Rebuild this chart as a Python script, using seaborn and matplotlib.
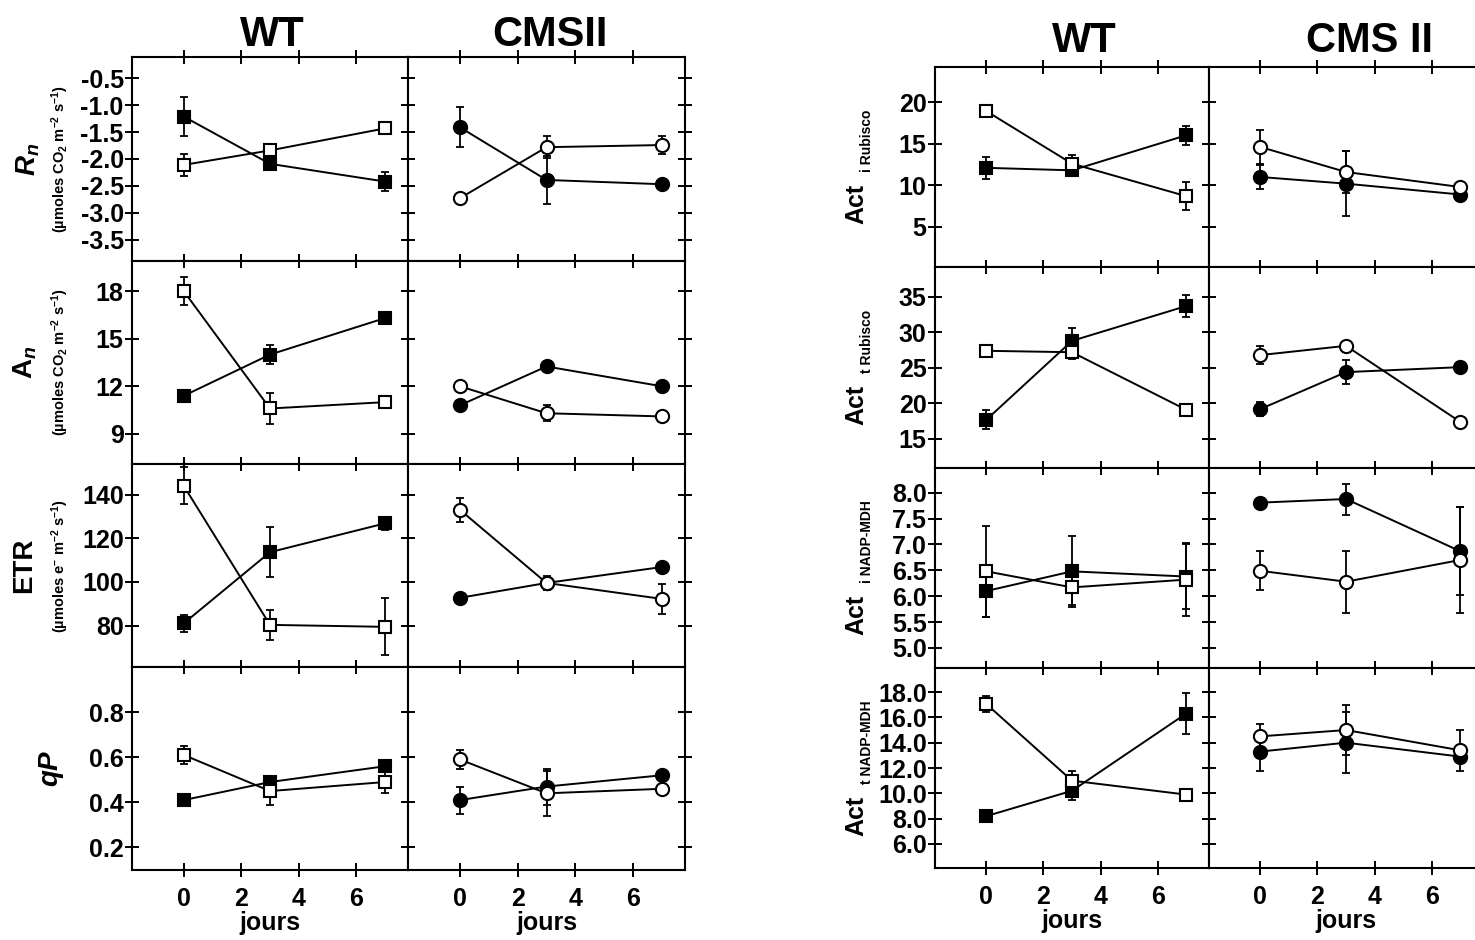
import matplotlib
matplotlib.use("Agg")
import matplotlib.pyplot as plt
import seaborn as sns

# days of measurement
days = [0, 3, 7]
x_ticks = [0, 2, 4, 6]

# ---- left block: gas exchange / fluorescence ----
rn_wt_filled = [-1.21, -2.09, -2.42]
rn_wt_filled_err = [0.37, 0.06, 0.18]
rn_wt_open = [-2.11, -1.84, -1.43]
rn_wt_open_err = [0.21, 0.06, 0.04]
rn_cms_filled = [-1.41, -2.39, -2.47]
rn_cms_filled_err = [0.37, 0.45, 0.04]
rn_cms_open = [-2.73, -1.78, -1.74]
rn_cms_open_err = [0.08, 0.20, 0.17]
rn_ticks = [-3.5, -3.0, -2.5, -2.0, -1.5, -1.0, -0.5]

an_wt_filled = [11.4, 14.0, 16.3]
an_wt_filled_err = [0.25, 0.6, 0.35]
an_wt_open = [18.0, 10.6, 11.0]
an_wt_open_err = [0.9, 1.0, 0.2]
an_cms_filled = [10.8, 13.25, 12.0]
an_cms_filled_err = [0.2, 0.2, 0.2]
an_cms_open = [12.0, 10.3, 10.1]
an_cms_open_err = [0.15, 0.5, 0.15]
an_ticks = [9, 12, 15, 18]

etr_wt_filled = [81.0, 113.6, 126.8]
etr_wt_filled_err = [4.0, 11.5, 3.0]
etr_wt_open = [144.0, 80.3, 79.4]
etr_wt_open_err = [8.5, 7.0, 13.0]
etr_cms_filled = [92.7, 99.5, 106.8]
etr_cms_filled_err = [1.5, 1.5, 1.5]
etr_cms_open = [133.0, 99.5, 92.2]
etr_cms_open_err = [5.5, 3.0, 7.0]
etr_ticks = [80, 100, 120, 140]

qp_wt_filled = [0.41, 0.49, 0.56]
qp_wt_filled_err = [0.01, 0.02, 0.02]
qp_wt_open = [0.61, 0.45, 0.49]
qp_wt_open_err = [0.04, 0.06, 0.05]
qp_cms_filled = [0.41, 0.47, 0.52]
qp_cms_filled_err = [0.06, 0.08, 0.02]
qp_cms_open = [0.59, 0.44, 0.46]
qp_cms_open_err = [0.04, 0.10, 0.02]
qp_ticks = [0.2, 0.4, 0.6, 0.8]

# ---- right block: enzyme activities ----
air_wt_filled = [12.1, 11.8, 16.0]
air_wt_filled_err = [1.3, 0.6, 1.1]
air_wt_open = [18.9, 12.6, 8.7]
air_wt_open_err = [0.7, 1.0, 1.7]
air_cms_filled = [11.0, 10.2, 8.9]
air_cms_filled_err = [1.4, 3.9, 0.3]
air_cms_open = [14.6, 11.6, 9.8]
air_cms_open_err = [2.0, 2.5, 0.3]
air_ticks = [5, 10, 15, 20]

atr_wt_filled = [17.7, 28.8, 33.7]
atr_wt_filled_err = [1.3, 1.8, 1.6]
atr_wt_open = [27.4, 27.2, 19.1]
atr_wt_open_err = [0.8, 1.0, 0.4]
atr_cms_filled = [19.2, 24.4, 25.1]
atr_cms_filled_err = [1.0, 1.7, 0.5]
atr_cms_open = [26.8, 28.1, 17.4]
atr_cms_open_err = [1.3, 0.3, 0.3]
atr_ticks = [15, 20, 25, 30, 35]

ain_wt_filled = [6.10, 6.48, 6.38]
ain_wt_filled_err = [0.50, 0.68, 0.62]
ain_wt_open = [6.48, 6.17, 6.32]
ain_wt_open_err = [0.88, 0.35, 0.70]
ain_cms_filled = [7.81, 7.88, 6.87]
ain_cms_filled_err = [0.0, 0.30, 0.85]
ain_cms_open = [6.49, 6.28, 6.70]
ain_cms_open_err = [0.38, 0.60, 1.03]
ain_ticks = [5.0, 5.5, 6.0, 6.5, 7.0, 7.5, 8.0]

atn_wt_filled = [8.2, 10.2, 16.3]
atn_wt_filled_err = [0.3, 0.7, 1.6]
atn_wt_open = [17.05, 11.0, 9.9]
atn_wt_open_err = [0.6, 0.8, 0.3]
atn_cms_filled = [13.3, 14.0, 12.9]
atn_cms_filled_err = [1.5, 2.4, 0.5]
atn_cms_open = [14.5, 15.0, 13.4]
atn_cms_open_err = [1.0, 2.0, 1.6]
atn_ticks = [6.0, 8.0, 10.0, 12.0, 14.0, 16.0, 18.0]

sns.set_style("ticks", rc={"axes.edgecolor": "black", "xtick.color": "black",
                           "ytick.color": "black", "text.color": "black",
                           "axes.labelcolor": "black"})
plt.rcParams["font.family"] = ["Liberation Sans", "DejaVu Sans"]
plt.rcParams["font.weight"] = "bold"
plt.rcParams["axes.unicode_minus"] = False
plt.rcParams["mathtext.fontset"] = "custom"
plt.rcParams["mathtext.rm"] = "Liberation Sans:bold"
plt.rcParams["mathtext.bf"] = "Liberation Sans:bold"
plt.rcParams["mathtext.it"] = "Liberation Sans:italic:bold"
plt.rcParams["mathtext.default"] = "rm"

W, H = 1475, 940
fig = plt.figure(figsize=(W / 100, H / 100), dpi=100)


def box(x0, x1, y0, y1):
    return [x0 / W, 1 - y1 / H, (x1 - x0) / W, (y1 - y0) / H]


def draw_series(ax, vals, err, marker, filled, ms):
    ax.errorbar(days, vals, yerr=err, fmt="none", ecolor="black",
                elinewidth=1.3, capsize=3, capthick=1.3, zorder=2)
    sns.lineplot(x=days, y=vals, ax=ax, color="black", linewidth=1.4,
                 errorbar=None, marker=marker, markersize=ms,
                 markerfacecolor="black" if filled else "white",
                 markeredgecolor="black", markeredgewidth=1.5, zorder=3)


left_rows = [
    dict(ylim=(-3.9, -0.1), ticks=rn_ticks, fmt="%.1f",
         wt=[(rn_wt_filled, rn_wt_filled_err, True), (rn_wt_open, rn_wt_open_err, False)],
         cms=[(rn_cms_filled, rn_cms_filled_err, True), (rn_cms_open, rn_cms_open_err, False)]),
    dict(ylim=(7.1, 19.9), ticks=an_ticks, fmt="%d",
         wt=[(an_wt_filled, an_wt_filled_err, True), (an_wt_open, an_wt_open_err, False)],
         cms=[(an_cms_filled, an_cms_filled_err, True), (an_cms_open, an_cms_open_err, False)]),
    dict(ylim=(61, 154), ticks=etr_ticks, fmt="%d",
         wt=[(etr_wt_filled, etr_wt_filled_err, True), (etr_wt_open, etr_wt_open_err, False)],
         cms=[(etr_cms_filled, etr_cms_filled_err, True), (etr_cms_open, etr_cms_open_err, False)]),
    dict(ylim=(0.1, 1.0), ticks=qp_ticks, fmt="%.1f",
         wt=[(qp_wt_filled, qp_wt_filled_err, True), (qp_wt_open, qp_wt_open_err, False)],
         cms=[(qp_cms_filled, qp_cms_filled_err, True), (qp_cms_open, qp_cms_open_err, False)]),
]

right_rows = [
    dict(ylim=(0.2, 24.2), ticks=air_ticks, fmt="%d",
         wt=[(air_wt_filled, air_wt_filled_err, True), (air_wt_open, air_wt_open_err, False)],
         cms=[(air_cms_filled, air_cms_filled_err, True), (air_cms_open, air_cms_open_err, False)]),
    dict(ylim=(10.9, 39.2), ticks=atr_ticks, fmt="%d",
         wt=[(atr_wt_filled, atr_wt_filled_err, True), (atr_wt_open, atr_wt_open_err, False)],
         cms=[(atr_cms_filled, atr_cms_filled_err, True), (atr_cms_open, atr_cms_open_err, False)]),
    dict(ylim=(4.61, 8.48), ticks=ain_ticks, fmt="%.1f",
         wt=[(ain_wt_filled, ain_wt_filled_err, True), (ain_wt_open, ain_wt_open_err, False)],
         cms=[(ain_cms_filled, ain_cms_filled_err, True), (ain_cms_open, ain_cms_open_err, False)]),
    dict(ylim=(4.1, 19.9), ticks=atn_ticks, fmt="%.1f",
         wt=[(atn_wt_filled, atn_wt_filled_err, True), (atn_wt_open, atn_wt_open_err, False)],
         cms=[(atn_cms_filled, atn_cms_filled_err, True), (atn_cms_open, atn_cms_open_err, False)]),
]


def make_block(xs, ys, rows):
    for r, row in enumerate(rows):
        for c in range(2):
            ax = fig.add_axes(box(xs[c], xs[c + 1], ys[r], ys[r + 1]))
            series = row["wt"] if c == 0 else row["cms"]
            marker, ms = ("s", 8.5) if c == 0 else ("o", 9.5)
            for vals, err, filled in series:
                draw_series(ax, vals, err, marker, filled, ms)
            ax.set_xlim(-1.8, 7.8)
            ax.set_ylim(*row["ylim"])
            ax.set_xticks(x_ticks)
            ax.set_yticks(row["ticks"])
            ax.set_yticklabels([row["fmt"] % t for t in row["ticks"]])
            ax.tick_params(axis="both", direction="inout", length=10, width=1.4,
                           top=True, right=True, labelsize=18)
            ax.tick_params(axis="y", pad=1)
            ax.tick_params(axis="x", pad=7)
            ax.tick_params(labelleft=(c == 0), labelbottom=(r == len(rows) - 1))
            if r == len(rows) - 1:
                ax.set_xlabel("jours", fontsize=18, fontweight="bold", labelpad=0)
            for s in ax.spines.values():
                s.set_linewidth(1.5)
                s.set_color("black")


make_block([132, 408, 685], [57, 261, 464, 667, 870], left_rows)
make_block([935, 1209, 1483], [67, 267, 468, 668, 868], right_rows)

# column titles
fig.text(272 / W, 1 - 46 / H, "WT", ha="center", va="baseline", fontsize=30)
fig.text(550 / W, 1 - 46 / H, "CMSII", ha="center", va="baseline", fontsize=30)
fig.text(1084 / W, 1 - 52 / H, "WT", ha="center", va="baseline", fontsize=30)
fig.text(1370 / W, 1 - 52 / H, "CMS II", ha="center", va="baseline", fontsize=30)

# left y labels
left_centers = [159, 362.5, 565.5, 768.5]
main_labels = [r"$\mathit{R}_{\mathit{n}}$", r"A$_{\mathit{n}}$", "ETR", r"$\mathit{qP}$"]
unit_labels = [r"(µmoles CO$_2$ m$^{-2}$ s$^{-1}$)", r"(µmoles CO$_2$ m$^{-2}$ s$^{-1}$)",
               r"(µmoles e$^{-}$ m$^{-2}$ s$^{-1}$)", None]
main_x = [28, 25, 24, 51]
for yc, lab, unit, mx in zip(left_centers, main_labels, unit_labels, main_x):
    fig.text(mx / W, 1 - yc / H, lab, rotation=90, ha="center", va="center", fontsize=20)
    if unit:
        fig.text(60 / W, 1 - yc / H, unit, rotation=90, ha="center", va="center", fontsize=10.5)

# right y labels: "Act" with a small subscript
right_centers = [167, 367.5, 568, 768]
act_subs = ["i Rubisco", "t Rubisco", "i NADP-MDH", "t NADP-MDH"]
renderer = fig.canvas.get_renderer()
gap = 12
for yc, sub in zip(right_centers, act_subs):
    t1 = fig.text(863 / W, 0.5, "Act", rotation=90, rotation_mode="anchor",
                  ha="right", va="baseline", fontsize=18)
    t2 = fig.text(871 / W, 0.5, sub, rotation=90, rotation_mode="anchor",
                  ha="left", va="baseline", fontsize=10)
    l1 = t1.get_window_extent(renderer).height
    l2 = t2.get_window_extent(renderer).height
    c = H - yc
    top_act = c - (l1 + gap + l2) / 2 + l1
    t1.set_y(top_act / H)
    t2.set_y((top_act + gap) / H)

fig.savefig("out.png", dpi=100)
